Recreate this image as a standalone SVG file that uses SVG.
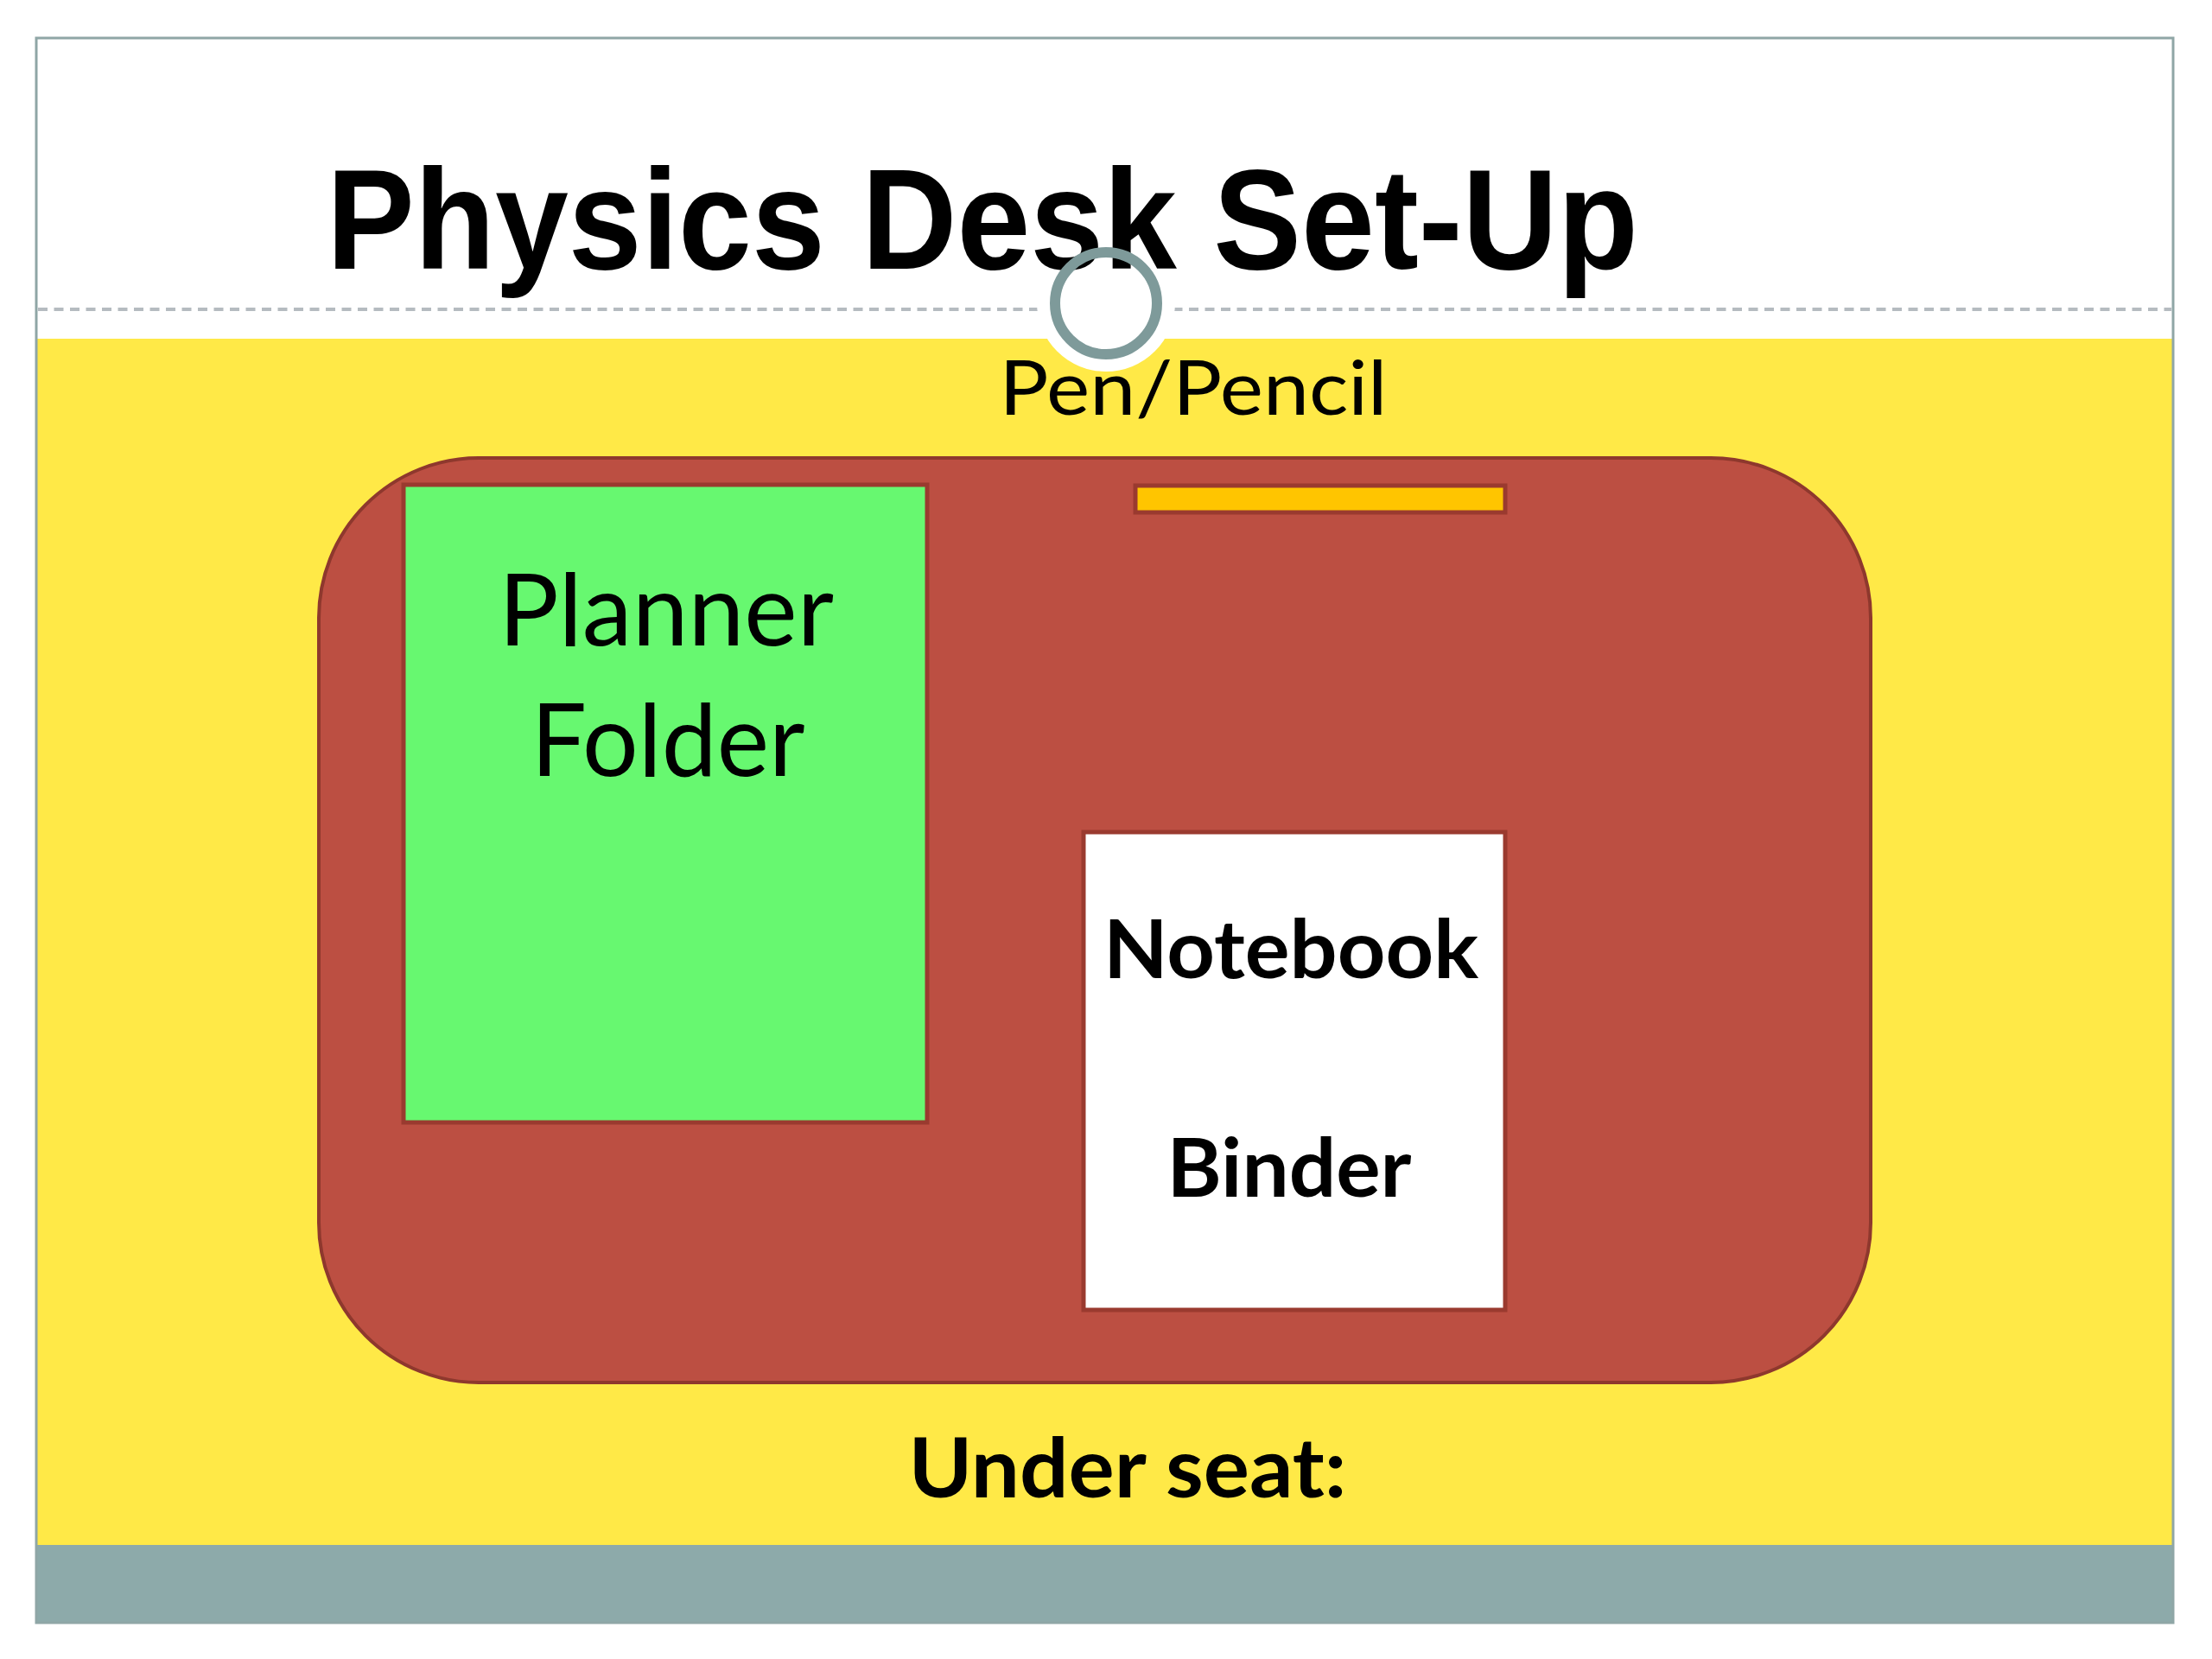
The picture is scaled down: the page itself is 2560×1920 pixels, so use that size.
<svg xmlns="http://www.w3.org/2000/svg" width="2560" height="1920" viewBox="0 0 2560 1920">
<style>
.lbl{font-family:Lato,"Open Sans","Liberation Sans",sans-serif;fill:#000;text-anchor:middle}
.b{font-weight:bold}
.title{font-family:"Liberation Sans",Arial,sans-serif;font-weight:bold;font-size:165px;fill:#000}
.item{stroke:#9A3A2F;stroke-width:5}
</style>
<rect x="0" y="0" width="2560" height="1920" fill="#ffffff"/>
<g id="slide">
<rect x="42" y="392" width="2473" height="1396" fill="#FFE947"/>
<rect x="42" y="1788" width="2473" height="90" fill="#8DAAAA"/>
<rect x="42" y="44" width="2473" height="1834" fill="none" stroke="#8FA6A6" stroke-width="3"/>
<line x1="44" y1="358" x2="2513" y2="358" stroke="#B5BBC0" stroke-width="4" stroke-dasharray="11 7.5"/>
<circle cx="1280" cy="350" r="80" fill="#ffffff"/>
<text id="title" class="title" x="378" y="311" textLength="1518" lengthAdjust="spacingAndGlyphs">Physics Desk Set-Up</text>
<circle cx="1280" cy="351" r="59" fill="none" stroke="#7E9A9A" stroke-width="12"/>
</g>
<g id="pen-label">
<text class="lbl" x="1381" y="480" font-size="88" textLength="449" lengthAdjust="spacingAndGlyphs">Pen/Pencil</text>
</g>
<g id="desk">
<rect x="369" y="530" width="1796" height="1070" rx="185" ry="185" fill="#BC4F42" stroke="#8E382D" stroke-width="4"/>
</g>
<g id="pencil">
<rect x="1314" y="562" width="428" height="31" fill="#FFC500" class="item"/>
</g>
<g id="planner-folder">
<rect x="467" y="561" width="606" height="738" fill="#67F870" class="item"/>
<text class="lbl" x="771" y="747" font-size="117" textLength="388" lengthAdjust="spacingAndGlyphs">Planner</text>
<text class="lbl" x="773" y="898" font-size="117" textLength="317" lengthAdjust="spacingAndGlyphs">Folder</text>
</g>
<g id="notebook-binder">
<rect x="1254" y="963" width="488" height="553" fill="#ffffff" class="item"/>
<text class="lbl b" x="1494" y="1132" font-size="94" textLength="434" lengthAdjust="spacingAndGlyphs">Notebook</text>
<text class="lbl b" x="1492" y="1385" font-size="94" textLength="283" lengthAdjust="spacingAndGlyphs">Binder</text>
</g>
<g id="under-seat">
<text class="lbl b" x="1305" y="1733" font-size="95" textLength="507" lengthAdjust="spacingAndGlyphs">Under seat:</text>
</g>
<g id="connectors"/>
</svg>
